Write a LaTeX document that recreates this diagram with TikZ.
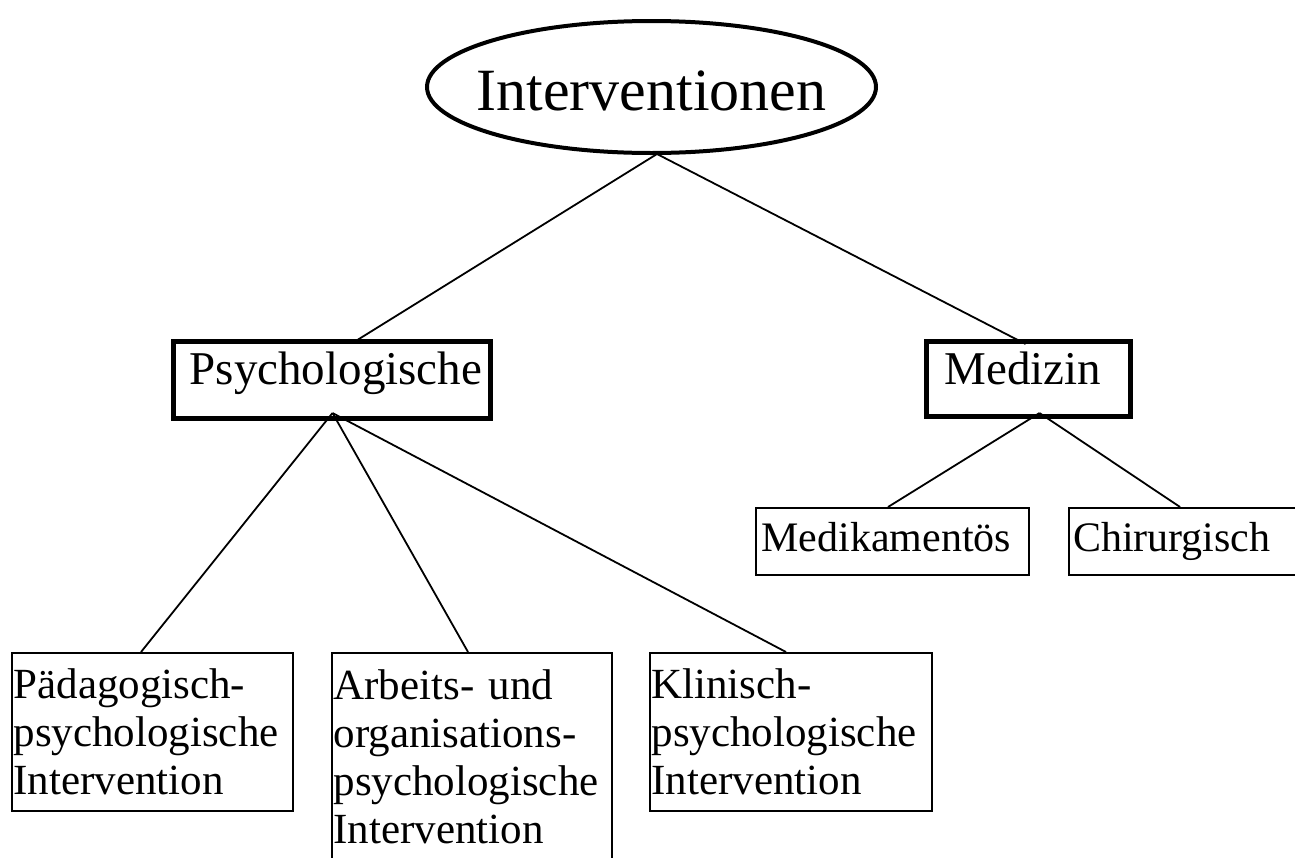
\documentclass[tikz,border=0pt]{standalone}
\usepackage{fontspec}
\setmainfont{Liberation Serif}
\usetikzlibrary{shapes.geometric}
\begin{document}
\begin{tikzpicture}[x=1pt,y=-1pt,
  conn/.style={line width=1.8pt},
  leaf/.style={draw, rectangle, line width=2pt, anchor=north west, inner ysep=0pt, align=left, font=\fontsize{43}{48}\selectfont},
  mid/.style={draw, rectangle, line width=5pt, anchor=north west, inner ysep=0pt, align=left, font=\fontsize{47}{56}\selectfont, text height=32pt},
  root/.style={ellipse, draw, line width=4pt, inner sep=0pt, font=\fontsize{60}{72}\selectfont}]
\clip (0,0) rectangle (1295,857);
\fill[white] (0,0) rectangle (1295,857);

\node[root, minimum width=449pt, minimum height=132pt, text height=46pt, text depth=0pt] (int) at (651.5,87) {\makebox[0pt]{Interventionen}};

\node[mid, minimum height=77pt, inner xsep=16.7pt, text width=283.6pt, text depth=22pt] (psy) at (170.5,338.5) {Psychologische};
\node[mid, minimum height=75pt, inner xsep=18.7pt, text width=166.6pt, text depth=20pt] (med) at (923.5,338.5) {Medizin};

\node[leaf, font=\fontsize{42}{48}\selectfont, minimum height=67pt, inner xsep=5.5pt, text width=262pt, text height=28.7pt, text depth=9.7pt] (medi) at (755,507) {Medikamentös};
\node[leaf, font=\fontsize{42}{48}\selectfont, minimum height=67pt, inner xsep=4pt, text width=252pt, text height=28.7pt, text depth=9.7pt] (chi) at (1068,507) {Chirurgisch};

\node[leaf, minimum height=158pt, inner xsep=1.5pt, text width=278pt] (paed) at (11,652) {Pädagogisch-\\psychologische\\Intervention};
\node[leaf, minimum height=208pt, inner xsep=1.5pt, text width=277pt] (arb) at (331,652) {Arbeits- und\\organisations-\\psychologische\\Intervention};
\node[leaf, minimum height=158pt, inner xsep=1.5pt, text width=279pt] (kli) at (649,652) {Klinisch-\\psychologische\\Intervention};

\draw[conn] ([xshift=5.5pt,yshift=1pt]int.south) -- ([xshift=21pt,yshift=-4.5pt]psy.north);
\draw[conn] ([xshift=5.5pt,yshift=1pt]int.south) -- ([xshift=-2.5pt,yshift=-5.5pt]med.north);

\draw[conn] ([xshift=1pt,yshift=7.5pt]psy.south) -- ([xshift=-11.5pt]paed.north);
\draw[conn] ([xshift=1pt,yshift=7.5pt]psy.south) -- ([xshift=-4pt]arb.north);
\draw[conn] ([xshift=1pt,yshift=7.5pt]psy.south) -- ([xshift=-5pt]kli.north);

\draw[conn] ([xshift=11.5pt,yshift=5.5pt]med.south) -- ([xshift=-4.5pt]medi.north);
\draw[conn] ([xshift=11.5pt,yshift=5.5pt]med.south) -- ([xshift=112pt]chi.north west);
\end{tikzpicture}
\end{document}
